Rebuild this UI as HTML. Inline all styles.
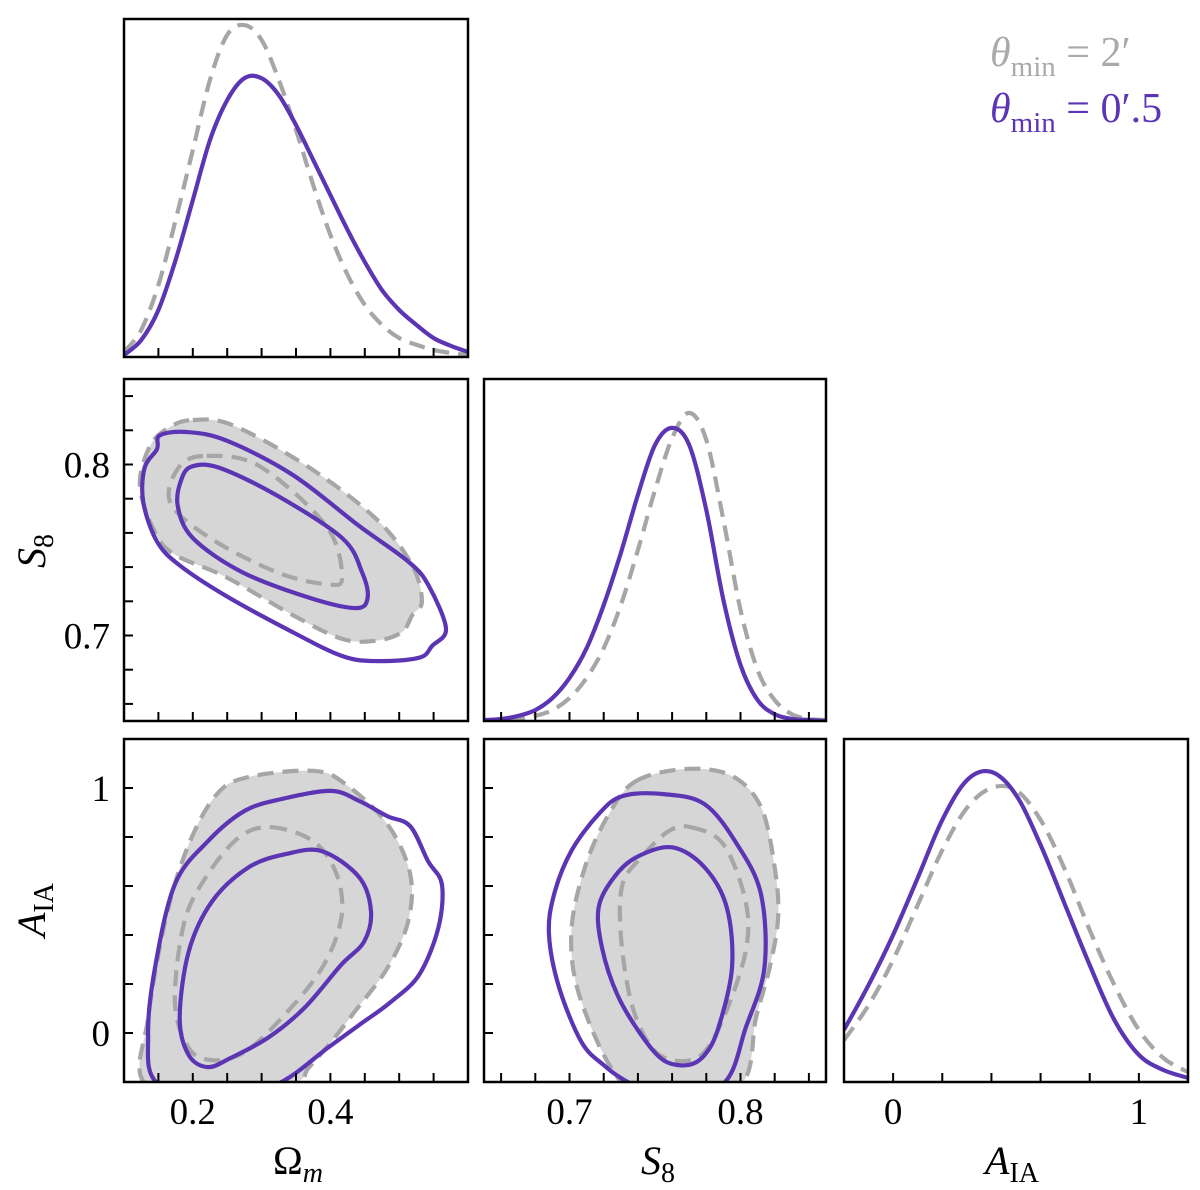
<!DOCTYPE html>
<html><head><meta charset="utf-8"><style>
html,body{margin:0;padding:0;background:#fff;}
svg{display:block;font-family:"Liberation Serif",serif;}
</style></head><body>
<svg id="fig" width="1200" height="1190" viewBox="0 0 1200 1190" xmlns="http://www.w3.org/2000/svg">
<g id="legend">
<text x="990" y="66" font-size="42" fill="#aaaaaa"><tspan font-style="italic">θ</tspan><tspan font-size="29" dy="10">min</tspan><tspan dy="-10"> = 2′</tspan></text>
<text x="990" y="122" font-size="42" fill="#5b35b3"><tspan font-style="italic">θ</tspan><tspan font-size="29" dy="10">min</tspan><tspan dy="-10"> = 0′.5</tspan></text>
</g>
</svg>
<script>
const PURPLE="#5b35b3", GRAY="#a6a6a6", FILL="#d6d6d6";
// 1D marginals (normalised heights)
const omGrid=[0.1,0.125,0.15,0.175,0.2,0.225,0.25,0.275,0.3,0.325,0.35,0.375,0.4,0.425,0.45,0.475,0.5,0.525,0.55,0.575,0.6];
const omPurple=[0.006,0.050,0.139,0.287,0.464,0.642,0.760,0.825,0.825,0.775,0.686,0.583,0.479,0.376,0.281,0.198,0.139,0.095,0.056,0.033,0.015];
const omGray=[0.015,0.080,0.213,0.405,0.612,0.820,0.953,0.982,0.938,0.820,0.672,0.509,0.361,0.243,0.154,0.095,0.056,0.036,0.021,0.012,0.006];
const s8Grid=[0.65,0.66,0.67,0.68,0.69,0.70,0.71,0.72,0.73,0.74,0.75,0.76,0.77,0.78,0.79,0.80,0.81,0.82,0.83,0.84,0.85];
const s8Purple=[0.003,0.006,0.015,0.032,0.067,0.126,0.213,0.339,0.491,0.661,0.807,0.857,0.807,0.617,0.354,0.164,0.061,0.020,0.006,0.003,0];
const s8Gray=[0,0.003,0.006,0.015,0.032,0.067,0.126,0.213,0.339,0.5,0.675,0.827,0.901,0.822,0.588,0.325,0.149,0.061,0.020,0.006,0.003];
const aGrid=[-0.2,-0.1,0,0.1,0.2,0.3,0.4,0.5,0.6,0.7,0.8,0.9,1.0,1.1,1.2];
const aPurple=[0.152,0.283,0.429,0.595,0.764,0.880,0.904,0.837,0.691,0.516,0.341,0.181,0.079,0.035,0.012];
const aGray=[0.122,0.224,0.356,0.516,0.676,0.799,0.857,0.851,0.764,0.618,0.443,0.283,0.152,0.070,0.029];
// 2D contours [x,y] in data units
const omS8GrayOuter=[[0.200,0.826],[0.258,0.823],[0.370,0.798],[0.467,0.768],[0.519,0.741],[0.533,0.720],[0.519,0.712],[0.504,0.702],[0.467,0.697],[0.417,0.698],[0.345,0.712],[0.249,0.734],[0.171,0.748],[0.142,0.763],[0.123,0.788],[0.138,0.811],[0.167,0.822]];
const omS8GrayInner=[[0.220,0.805],[0.297,0.799],[0.394,0.764],[0.417,0.734],[0.394,0.730],[0.322,0.737],[0.225,0.757],[0.167,0.778],[0.181,0.799]];
const omS8PurpleOuter=[[0.152,0.817],[0.191,0.819],[0.249,0.814],[0.345,0.794],[0.442,0.764],[0.514,0.743],[0.543,0.729],[0.568,0.704],[0.548,0.694],[0.529,0.687],[0.467,0.685],[0.417,0.688],[0.345,0.702],[0.249,0.723],[0.181,0.741],[0.148,0.755],[0.128,0.778],[0.130,0.798],[0.148,0.809]];
const omS8PurpleInner=[[0.200,0.799],[0.239,0.798],[0.322,0.782],[0.417,0.757],[0.446,0.737],[0.454,0.722],[0.437,0.716],[0.370,0.722],[0.272,0.737],[0.200,0.757],[0.178,0.776],[0.184,0.792]];
const omAGrayOuter=[[0.130,-0.205],[0.135,0.061],[0.161,0.471],[0.194,0.77],[0.235,0.975],[0.281,1.045],[0.375,1.07],[0.422,1.016],[0.483,0.852],[0.516,0.648],[0.513,0.455],[0.483,0.266],[0.435,0.086],[0.401,-0.037],[0.368,-0.143],[0.348,-0.205],[0.24,-0.3]];
const omAGrayInner=[[0.314,0.84],[0.375,0.783],[0.409,0.648],[0.416,0.471],[0.388,0.266],[0.329,0.061],[0.275,-0.078],[0.228,-0.111],[0.194,-0.061],[0.174,0.127],[0.188,0.455],[0.222,0.648],[0.268,0.8]];
const omAPurpleOuter=[[0.148,-0.205],[0.135,-0.008],[0.145,0.266],[0.174,0.607],[0.222,0.783],[0.275,0.906],[0.329,0.955],[0.401,0.988],[0.442,0.947],[0.483,0.885],[0.516,0.844],[0.542,0.701],[0.562,0.607],[0.557,0.43],[0.529,0.238],[0.488,0.127],[0.442,0.033],[0.396,-0.061],[0.329,-0.2],[0.24,-0.3]];
const omAPurpleInner=[[0.388,0.742],[0.442,0.635],[0.459,0.496],[0.449,0.373],[0.416,0.279],[0.362,0.102],[0.309,-0.02],[0.255,-0.102],[0.222,-0.139],[0.194,-0.09],[0.181,0.061],[0.194,0.332],[0.228,0.537],[0.281,0.676],[0.335,0.73]];
const s8AGrayOuter=[[0.739,1.029],[0.769,1.078],[0.795,1.049],[0.812,0.922],[0.820,0.676],[0.822,0.471],[0.817,0.266],[0.809,0.061],[0.801,-0.205],[0.765,-0.3],[0.731,-0.205],[0.707,0.127],[0.701,0.402],[0.709,0.676],[0.723,0.893]];
const s8AGrayInner=[[0.771,0.84],[0.790,0.77],[0.803,0.537],[0.803,0.332],[0.790,0.061],[0.777,-0.09],[0.760,-0.111],[0.747,-0.049],[0.736,0.127],[0.730,0.402],[0.731,0.607],[0.742,0.717],[0.758,0.824]];
const s8APurpleOuter=[[0.734,-0.2],[0.720,-0.131],[0.707,-0.037],[0.694,0.184],[0.688,0.402],[0.691,0.566],[0.701,0.742],[0.717,0.893],[0.731,0.967],[0.755,0.975],[0.779,0.934],[0.798,0.77],[0.812,0.566],[0.814,0.266],[0.803,0.02],[0.791,-0.2],[0.762,-0.3]];
const s8APurpleInner=[[0.760,0.758],[0.779,0.676],[0.792,0.512],[0.795,0.266],[0.787,0.02],[0.779,-0.09],[0.769,-0.131],[0.755,-0.111],[0.742,-0.008],[0.728,0.156],[0.719,0.348],[0.717,0.512],[0.726,0.635],[0.739,0.717]];
// ticks
const omTickLabels=["0.2","0.4"], omTickVals=[0.2,0.4];
const s8TickLabels=["0.7","0.8"], s8TickVals=[0.7,0.8];
const aTickLabels=["0","1"], aTickVals=[0,1];

const NS="http://www.w3.org/2000/svg";
const svg=document.getElementById('fig');
function el(t,a,p){const e=document.createElementNS(NS,t);for(const k in a)e.setAttribute(k,a[k]);(p||svg).appendChild(e);return e;}
const cols=[[124,468],[484,826],[844,1188]], rows=[[19,357],[379,721],[739,1082]];
const ranges={om:[0.1,0.6],s8:[0.65,0.85],a:[-0.2,1.2]};
const minor={om:0.05,s8:0.02,a:0.2};
const LW=4.2, DASH='16 9';
function sx(c,v,r){return cols[c][0]+(v-ranges[r][0])/(ranges[r][1]-ranges[r][0])*(cols[c][1]-cols[c][0]);}
function sy(rw,v,r){return rows[rw][1]-(v-ranges[r][0])/(ranges[r][1]-ranges[r][0])*(rows[rw][1]-rows[rw][0]);}
function cr(pts,closed){
  const n=pts.length;let d="M"+pts[0][0].toFixed(1)+","+pts[0][1].toFixed(1);
  const m=closed?n:n-1;
  for(let i=0;i<m;i++){
    const p0=pts[closed?(i-1+n)%n:Math.max(i-1,0)],p1=pts[i],p2=pts[(i+1)%n],p3=pts[closed?(i+2)%n:Math.min(i+2,n-1)];
    const c1=[p1[0]+(p2[0]-p0[0])/6,p1[1]+(p2[1]-p0[1])/6],c2=[p2[0]-(p3[0]-p1[0])/6,p2[1]-(p3[1]-p1[1])/6];
    d+="C"+c1[0].toFixed(1)+","+c1[1].toFixed(1)+" "+c2[0].toFixed(1)+","+c2[1].toFixed(1)+" "+p2[0].toFixed(1)+","+p2[1].toFixed(1);
  }
  return d+(closed?"Z":"");
}
const vars=['om','s8','a'];
let cid=0;
function panel(rw,c){
  const g=el('g',{});
  
  
  const id='clip'+(cid++);
  const cp=el('clipPath',{id:id},g);
  el('rect',{x:cols[c][0],y:rows[rw][0],width:cols[c][1]-cols[c][0],height:rows[rw][1]-rows[rw][0]},cp);
  const inner=el('g',{'clip-path':'url(#'+id+')'},g);
  return {g,inner};
}
function frameAndTicks(g,rw,c,yticks){
  const xr=vars[c];
  const st=minor[xr];
  for(let v=Math.ceil(ranges[xr][0]/st-1e-6)*st;v<=ranges[xr][1]+1e-6;v+=st){
    const x=sx(c,v,xr);if(x<cols[c][0]+2||x>cols[c][1]-2)continue;
    const t=el('line',{x1:x,x2:x,y1:rows[rw][1],y2:rows[rw][1]-9,stroke:'#000','stroke-width':2},g);
    
    
  }
  if(yticks){
    const yr=vars[rw],s2=minor[yr];
    for(let v=Math.ceil(ranges[yr][0]/s2-1e-6)*s2;v<=ranges[yr][1]+1e-6;v+=s2){
      const y=sy(rw,v,yr);if(y<rows[rw][0]+2||y>rows[rw][1]-2)continue;
      const t=el('line',{x1:cols[c][0],x2:cols[c][0]+9,y1:y,y2:y,stroke:'#000','stroke-width':2},g);
      
      
    }
  }
  const f=el('rect',{x:cols[c][0],y:rows[rw][0],width:cols[c][1]-cols[c][0],height:rows[rw][1]-rows[rw][0],fill:'none',stroke:'#000','stroke-width':2.5},g);
  
  
}
function curve1d(inner,c,rw,grid,vals,color,dash,name){
  const r=vars[c];const h=rows[rw][1]-rows[rw][0];
  const pts=grid.map((v,i)=>[sx(c,v,r),rows[rw][1]-vals[i]*h]);
  const p=el('path',{d:cr(pts,false),fill:'none',stroke:color,'stroke-width':LW},inner);
  if(dash)p.setAttribute('stroke-dasharray',DASH);
  
  
}
function contour(inner,c,rw,data,color,dash,fill,name){
  const pts=data.map(p=>[sx(c,p[0],vars[c]),sy(rw,p[1],vars[rw])]);
  const p=el('path',{d:cr(pts,true),fill:fill||'none',stroke:fill?'none':color,'stroke-width':LW},inner);
  if(dash)p.setAttribute('stroke-dasharray',DASH);
  
  
}
[[0,omGrid,omGray,omPurple],[1,s8Grid,s8Gray,s8Purple],[2,aGrid,aGray,aPurple]].forEach(([i,gr,gv,pv])=>{
  const P=panel(i,i);
  curve1d(P.inner,i,i,gr,gv,GRAY,true,'marginal-'+vars[i]+'-2arcmin');
  curve1d(P.inner,i,i,gr,pv,PURPLE,false,'marginal-'+vars[i]+'-0.5arcmin');
  frameAndTicks(P.g,i,i,false);
});
[[1,0,omS8GrayOuter,omS8GrayInner,omS8PurpleOuter,omS8PurpleInner],
 [2,0,omAGrayOuter,omAGrayInner,omAPurpleOuter,omAPurpleInner],
 [2,1,s8AGrayOuter,s8AGrayInner,s8APurpleOuter,s8APurpleInner]].forEach(([rw,c,go,gi,po,pi])=>{
  const P=panel(rw,c);
  contour(P.inner,c,rw,go,GRAY,false,FILL,'contour-fill-2arcmin');
  contour(P.inner,c,rw,go,GRAY,true,null,'contour-95-2arcmin');
  contour(P.inner,c,rw,gi,GRAY,true,null,'contour-68-2arcmin');
  contour(P.inner,c,rw,po,PURPLE,false,null,'contour-95-0.5arcmin');
  contour(P.inner,c,rw,pi,PURPLE,false,null,'contour-68-0.5arcmin');
  frameAndTicks(P.g,rw,c,true);
});
function txt(x,y,s,anchor,name,size){
  const t=el('text',{x:x,y:y,'font-size':size||37,'text-anchor':anchor,fill:'#000'});
  t.textContent=s;
  
  
  return t;
}
omTickVals.forEach((v,i)=>txt(sx(0,v,'om'),1124,omTickLabels[i],'middle','x-tick-label'));
s8TickVals.forEach((v,i)=>txt(sx(1,v,'s8'),1124,s8TickLabels[i],'middle','x-tick-label'));
aTickVals.forEach((v,i)=>txt(sx(2,v,'a'),1124,aTickLabels[i],'middle','x-tick-label'));
s8TickVals.forEach((v,i)=>txt(110,sy(1,v,'s8')+13,s8TickLabels[i],'end','y-tick-label'));
aTickVals.forEach((v,i)=>txt(110,sy(2,v,'a')+13,aTickLabels[i],'end','y-tick-label'));
function title(x,y,main,sub,name,rot){
  const t=el('text',{x:x,y:y,'font-size':40,'text-anchor':'middle',fill:'#000'});
  if(rot)t.setAttribute('transform','rotate(-90 '+x+' '+y+')');
  const a=el('tspan',{'font-style':main==='Ω'?'normal':'italic'},t);a.textContent=main;
  const b=el('tspan',{'font-size':28,dy:8,'font-style':sub==='m'?'italic':'normal'},t);b.textContent=sub;
  
  
}
title(298,1174,'Ω','m','x-axis-title-omega-m',false);
title(658,1174,'S','8','x-axis-title-s8',false);
title(1012,1174,'A','IA','x-axis-title-a-ia',false);
title(45,551,'S','8','y-axis-title-s8',true);
title(45,910,'A','IA','y-axis-title-a-ia',true);
</script>
</body></html>
